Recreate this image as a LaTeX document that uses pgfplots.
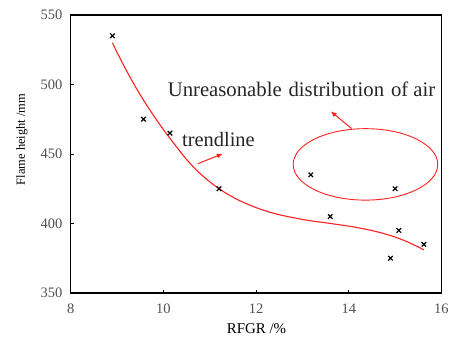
\documentclass[border=0pt]{standalone}
\usepackage{fontspec}
\setmainfont{Liberation Serif}
\usepackage{pgfplots}
\pgfplotsset{compat=1.18}
\usetikzlibrary{arrows.meta}
\definecolor{ticklab}{HTML}{505050}
\definecolor{trend}{HTML}{FF2020}
\begin{document}
\begin{tikzpicture}[x=1pt,y=1pt]
% fixed page frame around the axis
\path (-71,-44) rectangle (381,294);
\begin{axis}[
  at={(0,0)}, anchor=south west,
  scale only axis, width=372pt, height=279pt,
  xmin=8, xmax=16, ymin=350, ymax=550,
  xtick={8,10,12,14,16}, ytick={350,400,450,500,550},
  tick align=inside, major tick length=3pt,
  xtick pos=bottom, ytick pos=left,
  axis line style={line width=1.5pt, black},
  tick style={line width=0.8pt, black},
  /pgf/number format/assume math mode=true,
  ticklabel style={font=\fontsize{14.5}{15}\selectfont, text=ticklab},
  xticklabel style={yshift=-7pt},
  yticklabel style={xshift=-5pt},
  xlabel={RFGR /\%},
  ylabel={Flame height /mm},
  xlabel style={font=\fontsize{15}{16}\selectfont, at={(axis description cs:0.501,-0.129)}, anchor=center},
  ylabel style={font=\fontsize{12.5}{13}\selectfont, at={(axis description cs:-0.132,0.552)}, anchor=center},
]
% measured flame heights
\addplot[only marks, mark=x, mark size=3.2pt, line width=1.2pt, black] coordinates {
  (8.9,535) (9.57,475) (10.14,465) (11.2,425) (13.18,435)
  (13.6,405) (14.9,375) (15.0,425) (15.08,395) (15.62,385)
};
% fitted trendline
\addplot[trend, line width=1.1pt, smooth] coordinates {
  (8.9,530) (9.0,523) (9.25,507) (9.5,492.5) (9.75,479.5) (10.0,467.5)
  (10.25,456.5) (10.5,446) (10.75,437.2) (11.0,430) (11.25,423.9)
  (11.5,418.9) (11.75,414.8) (12.0,411.4) (12.25,408.6) (12.5,406.3)
  (12.75,404.5) (13.0,402.9) (13.25,401.6) (13.5,400.5) (13.75,399.3)
  (14.0,398.1) (14.25,396.6) (14.5,394.9) (14.75,392.8) (15.0,390.2)
  (15.25,387.0) (15.5,383.1) (15.62,381.0)
};
% marked cluster
\draw[trend, line width=0.9pt] (axis cs:14.36,442.5) ellipse [x radius=1.56, y radius=25.7];
\draw[trend, line width=1pt, -{Latex[length=6pt,width=5pt]}] (axis cs:14.06,468.3) -- (axis cs:13.61,480.7);
\draw[trend, line width=1pt, -{Latex[length=6pt,width=5pt]}] (axis cs:10.74,443) -- (axis cs:11.28,450.1);
\node[anchor=base west, inner sep=0, font=\fontsize{20.8}{22}\selectfont, text=black!85] at (axis cs:10.09,491.4) {Unreasonable\hspace{0.08em} distribution\hspace{0.08em} of air};
\node[anchor=base west, inner sep=0, font=\fontsize{20.5}{22}\selectfont, text=black!85] at (axis cs:10.40,455.6) {trendline};
\end{axis}
\end{tikzpicture}
\end{document}
